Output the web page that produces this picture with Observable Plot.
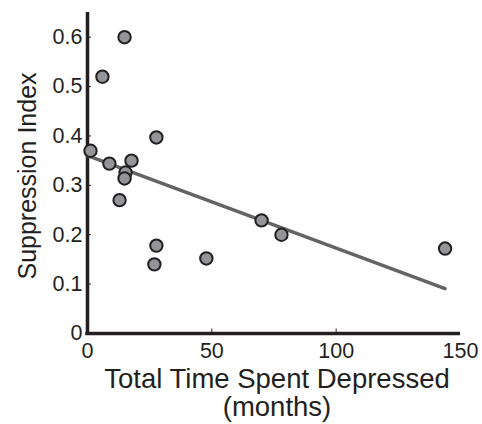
<!DOCTYPE html>
<html><head><meta charset="utf-8">
<script src="https://cdn.jsdelivr.net/npm/d3@7"></script>
<script src="https://cdn.jsdelivr.net/npm/@observablehq/plot@0.6"></script>
<style>body{margin:0;background:#fff}</style>
</head><body><div id="chart"></div>
<script>
const months = [14.9, 6, 1.2, 8.8, 17.7, 15.3, 14.9, 12.9, 27.7, 27.7, 26.9, 47.8, 70, 78, 143.8];
const suppression = [0.60, 0.52, 0.37, 0.344, 0.35, 0.326, 0.314, 0.27, 0.397, 0.178, 0.14, 0.152, 0.229, 0.20, 0.172];
const fitMonths = [0, 143.8];
const fitSuppression = [0.36, 0.091];
const xTicks = [0, 50, 100, 150];
const yTicks = [0, 0.1, 0.2, 0.3, 0.4, 0.5, 0.6];

const points = months.map((m, i) => ({m, s: suppression[i]}));
const fit = fitMonths.map((m, i) => ({m, s: fitSuppression[i]}));

const ink = "#231f20";
const chart = Plot.plot({
  width: 482, height: 424,
  marginLeft: 87, marginRight: 22, marginTop: 12, marginBottom: 91,
  style: {fontFamily: "Liberation Sans, Arial, sans-serif", fontSize: "21px", color: ink, background: "#fff"},
  x: {domain: [0, 150]},
  y: {domain: [0, 0.65]},
  marks: [
    Plot.axisX(xTicks, {tickSize: 0, tickPadding: 9, fontSize: 21.5, label: null, tickFormat: d => String(d)}),
    Plot.axisY(yTicks, {tickSize: 0, tickPadding: 5, fontSize: 21.5, label: null, tickFormat: d => d === 0 ? "0" : d3.format(".1f")(d)}),
    Plot.ruleY(yTicks.slice(1), {x1: 0, x2: 1.6, stroke: ink, strokeWidth: 1}),
    Plot.ruleX(xTicks.slice(1, 3), {y1: 0, y2: 0.009, stroke: ink, strokeWidth: 1}),
    Plot.ruleX([0], {stroke: ink, strokeWidth: 3.5, y1: -0.003, y2: 0.65}),
    Plot.ruleY([0], {stroke: ink, strokeWidth: 3.5, x1: -0.7, x2: 150}),
    Plot.line(fit, {x: "m", y: "s", stroke: "#646464", strokeWidth: 3.5}),
    Plot.dot(points, {x: "m", y: "s", r: 6.2, fill: "#939598", stroke: ink, strokeWidth: 2}),
    Plot.text(["Total Time Spent Depressed\n(months)"], {frameAnchor: "bottom", dx: 3, dy: 34, fontSize: 27.5, lineHeight: 1.04, fill: ink, textAnchor: "middle", lineAnchor: "top"}),
    Plot.text(["Suppression Index"], {frameAnchor: "left", dx: -60, dy: 3, rotate: -90, fontSize: 25, fill: ink, textAnchor: "middle"})
  ]
});
document.getElementById("chart").appendChild(chart);
</script></body></html>
